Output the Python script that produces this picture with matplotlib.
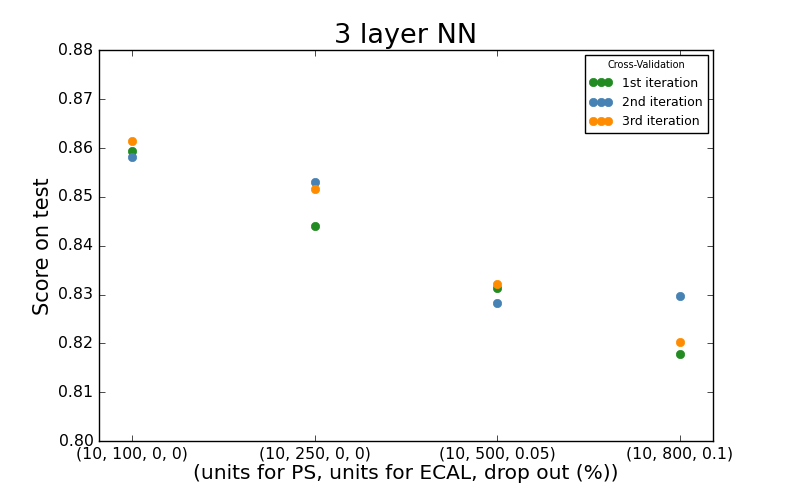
import matplotlib

matplotlib.use('Agg')
import matplotlib.pyplot as plt
import numpy as np

# settings for the 3 layer net: (units for PS, units for ECAL, drop out)
configs = ['(10, 100, 0, 0)', '(10, 250, 0, 0)', '(10, 500, 0.05)', '(10, 800, 0.1)']

# test scores per cross-validation iteration
iter_1 = [0.8593, 0.8440, 0.8314, 0.8178]
iter_2 = [0.8581, 0.8530, 0.8282, 0.8297]
iter_3 = [0.8614, 0.8516, 0.8321, 0.8203]

labels = ['1st iteration', '2nd iteration', '3rd iteration']
colors = ['forestgreen', 'steelblue', 'darkorange']

plt.style.use('classic')

fig = plt.figure(figsize=(7.92, 5.04), dpi=100, facecolor='white')
ax = fig.add_subplot(111)
fig.subplots_adjust(left=0.125, right=0.9, bottom=0.125, top=0.9)

x = np.arange(len(configs))
for scores, lab, col in zip([iter_1, iter_2, iter_3], labels, colors):
    ax.plot(x, scores, linestyle='none', marker='o', markersize=6,
            color=col, markeredgecolor=col, label=lab)

ax.set_xlim(-0.18, 3.18)
ax.set_ylim(0.80, 0.88)
ax.set_xticks(x)
ax.set_xticklabels(configs, fontsize=11.3)
ax.set_yticks(np.arange(0.80, 0.881, 0.01))
ax.set_yticklabels(['%.2f' % v for v in np.arange(0.80, 0.881, 0.01)], fontsize=11.3)

ax.set_title('3 layer NN', fontsize=19.5)
ax.set_xlabel('(units for PS, units for ECAL, drop out (%))', fontsize=14.5, labelpad=2)
ax.set_ylabel('Score on test', fontsize=15, labelpad=4)

leg = ax.legend(loc='upper right', numpoints=3, fontsize=9,
                title='Cross-Validation', borderaxespad=0.4, handletextpad=0.8,
                handlelength=1.8)
leg.get_title().set_fontsize(7)

fig.savefig('out.png', dpi=100, facecolor='white')
